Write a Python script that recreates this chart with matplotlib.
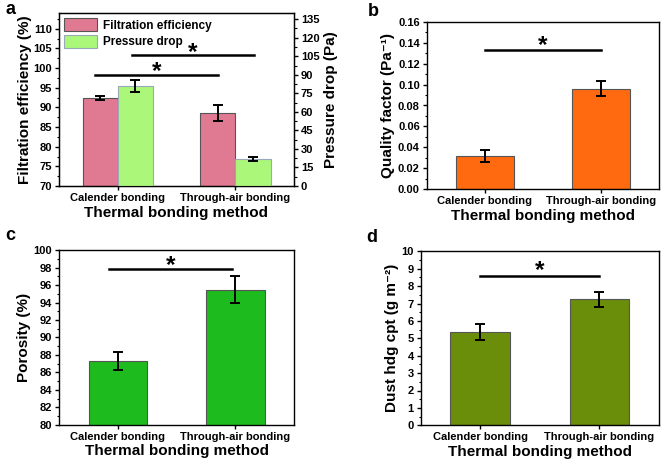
import numpy as np
import matplotlib.pyplot as plt
from matplotlib.ticker import AutoMinorLocator, MultipleLocator

plt.rcParams['font.family'] = ['Liberation Sans', 'DejaVu Sans']
plt.rcParams['font.weight'] = 'bold'
plt.rcParams['axes.labelweight'] = 'bold'

methods = ["Calender bonding", "Through-air bonding"]

# panel a
filt_eff = [92.3, 88.5]
filt_err = [0.5, 2.0]
p_drop = [81.0, 22.0]
p_drop_err = [4.6, 1.8]
# panel b
quality = [0.0315, 0.096]
quality_err = [0.0057, 0.007]
# panel c
porosity = [87.3, 95.5]
porosity_err = [1.0, 1.5]
# panel d
dust = [5.35, 7.23]
dust_err = [0.47, 0.43]

W, H = 661, 466
fig = plt.figure(figsize=(W / 100, H / 100), dpi=100)


def box(l, t, r, b):
    return [l / W, 1 - b / H, (r - l) / W, (b - t) / H]


TICK_FS = 8
LAB_FS = 11
edge = "#555555"
err_kw = dict(ecolor="black", elinewidth=1.4, capsize=3.5, capthick=1.4)


def style(ax):
    ax.tick_params(axis="both", labelsize=TICK_FS, direction="out", length=3, width=1, pad=2)
    ax.tick_params(axis="y", which="minor", length=1.8, width=0.8)
    ax.tick_params(axis="x", which="minor", bottom=False)
    for s in ax.spines.values():
        s.set_linewidth(1.0)
    ax.set_xlim(-0.5, 1.5)
    ax.set_xticks([0, 1])
    ax.set_xticklabels(methods)
    ax.set_xlabel("Thermal bonding method", fontsize=LAB_FS, labelpad=2)
    ax.yaxis.set_minor_locator(AutoMinorLocator(2))


def sig(ax, x0, x1, y, off):
    # significance bar with a star, off = star baseline shift in points
    ax.plot([x0, x1], [y, y], color="black", lw=1.8)
    ax.annotate("*", xy=((x0 + x1) / 2, y), xytext=(0, off), textcoords="offset points",
                ha="center", va="baseline", fontsize=17.5)


x = np.arange(len(methods))

# ---- a
ax = fig.add_axes(box(59, 13, 294, 186))
ax2 = ax.twinx()
bw = 0.3
ax.bar(x - bw / 2, filt_eff, bw, yerr=filt_err, color="#E07A93", edgecolor=edge,
       linewidth=0.8, error_kw=err_kw, label="Filtration efficiency", zorder=2)
ax2.bar(x + bw / 2, p_drop, bw, yerr=p_drop_err, color="#AAF77A", edgecolor="#9AA8B8",
        linewidth=0.8, error_kw=err_kw, label="Pressure drop", zorder=2)
style(ax)
ax.set_ylim(70, 114)
ax.yaxis.set_major_locator(MultipleLocator(5))
ax.set_ylabel("Filtration efficiency (%)", fontsize=LAB_FS, labelpad=1)
ax2.set_ylim(0, 140)
ax2.yaxis.set_major_locator(MultipleLocator(15))
ax2.yaxis.set_minor_locator(AutoMinorLocator(2))
ax2.tick_params(axis="y", labelsize=TICK_FS, length=3, width=1, pad=2)
ax2.tick_params(axis="y", which="minor", length=1.8, width=0.8)
ax2.set_ylabel("Pressure drop (Pa)", fontsize=LAB_FS, labelpad=3)
sig(ax, -0.19, 0.85, 98.2, -2.3)
sig(ax, 0.12, 1.16, 103.2, -2.3)
h1, l1 = ax.get_legend_handles_labels()
h2, l2 = ax2.get_legend_handles_labels()
ax2.legend(h1 + h2, l1 + l2, loc="upper left", frameon=False, fontsize=8.5,
           handlelength=2.8, handleheight=1.3, borderaxespad=0.05,
           labelspacing=0.25, handletextpad=0.5)
fig.text(5 / W, 1 - 10 / H, "a", fontsize=13, ha="left", va="center")

# ---- b
ax = fig.add_axes(box(426.7, 21.7, 659, 189.3))
ax.bar(x, quality, 0.5, yerr=quality_err, color="#FF6A10", edgecolor=edge,
       linewidth=0.8, error_kw=err_kw, zorder=2)
style(ax)
ax.set_ylim(0, 0.16)
ax.yaxis.set_major_locator(MultipleLocator(0.02))
ax.yaxis.set_major_formatter(plt.FormatStrFormatter("%.2f"))
ax.set_ylabel("Quality factor (Pa⁻¹)", fontsize=LAB_FS, labelpad=2)
sig(ax, 0.0, 1.0, 0.133, -1.2)
fig.text(368 / W, 1 - 12 / H, "b", fontsize=13, ha="left", va="center")

# ---- c
ax = fig.add_axes(box(59.3, 250.3, 294, 424.7))
ax.bar(x, porosity, 0.5, yerr=porosity_err, color="#1DBB1D", edgecolor=edge,
       linewidth=0.8, error_kw=err_kw, zorder=2)
style(ax)
ax.set_ylim(80, 100)
ax.yaxis.set_major_locator(MultipleLocator(2))
ax.set_ylabel("Porosity (%)", fontsize=LAB_FS, labelpad=2)
sig(ax, -0.08, 0.97, 97.9, -2.3)
fig.text(5 / W, 1 - 236 / H, "c", fontsize=13, ha="left", va="center")

# ---- d
ax = fig.add_axes(box(420.7, 251.3, 659, 425.3))
ax.bar(x, dust, 0.5, yerr=dust_err, color="#6B8E0A", edgecolor=edge,
       linewidth=0.8, error_kw=err_kw, zorder=2)
style(ax)
ax.set_ylim(0, 10)
ax.yaxis.set_major_locator(MultipleLocator(1))
ax.set_ylabel("Dust hdg cpt (g m⁻²)", fontsize=LAB_FS, labelpad=2)
sig(ax, 0.0, 1.0, 8.56, -0.3)
fig.text(366 / W, 1 - 238 / H, "d", fontsize=13, ha="left", va="center")

fig.savefig("out.png", dpi=100)
